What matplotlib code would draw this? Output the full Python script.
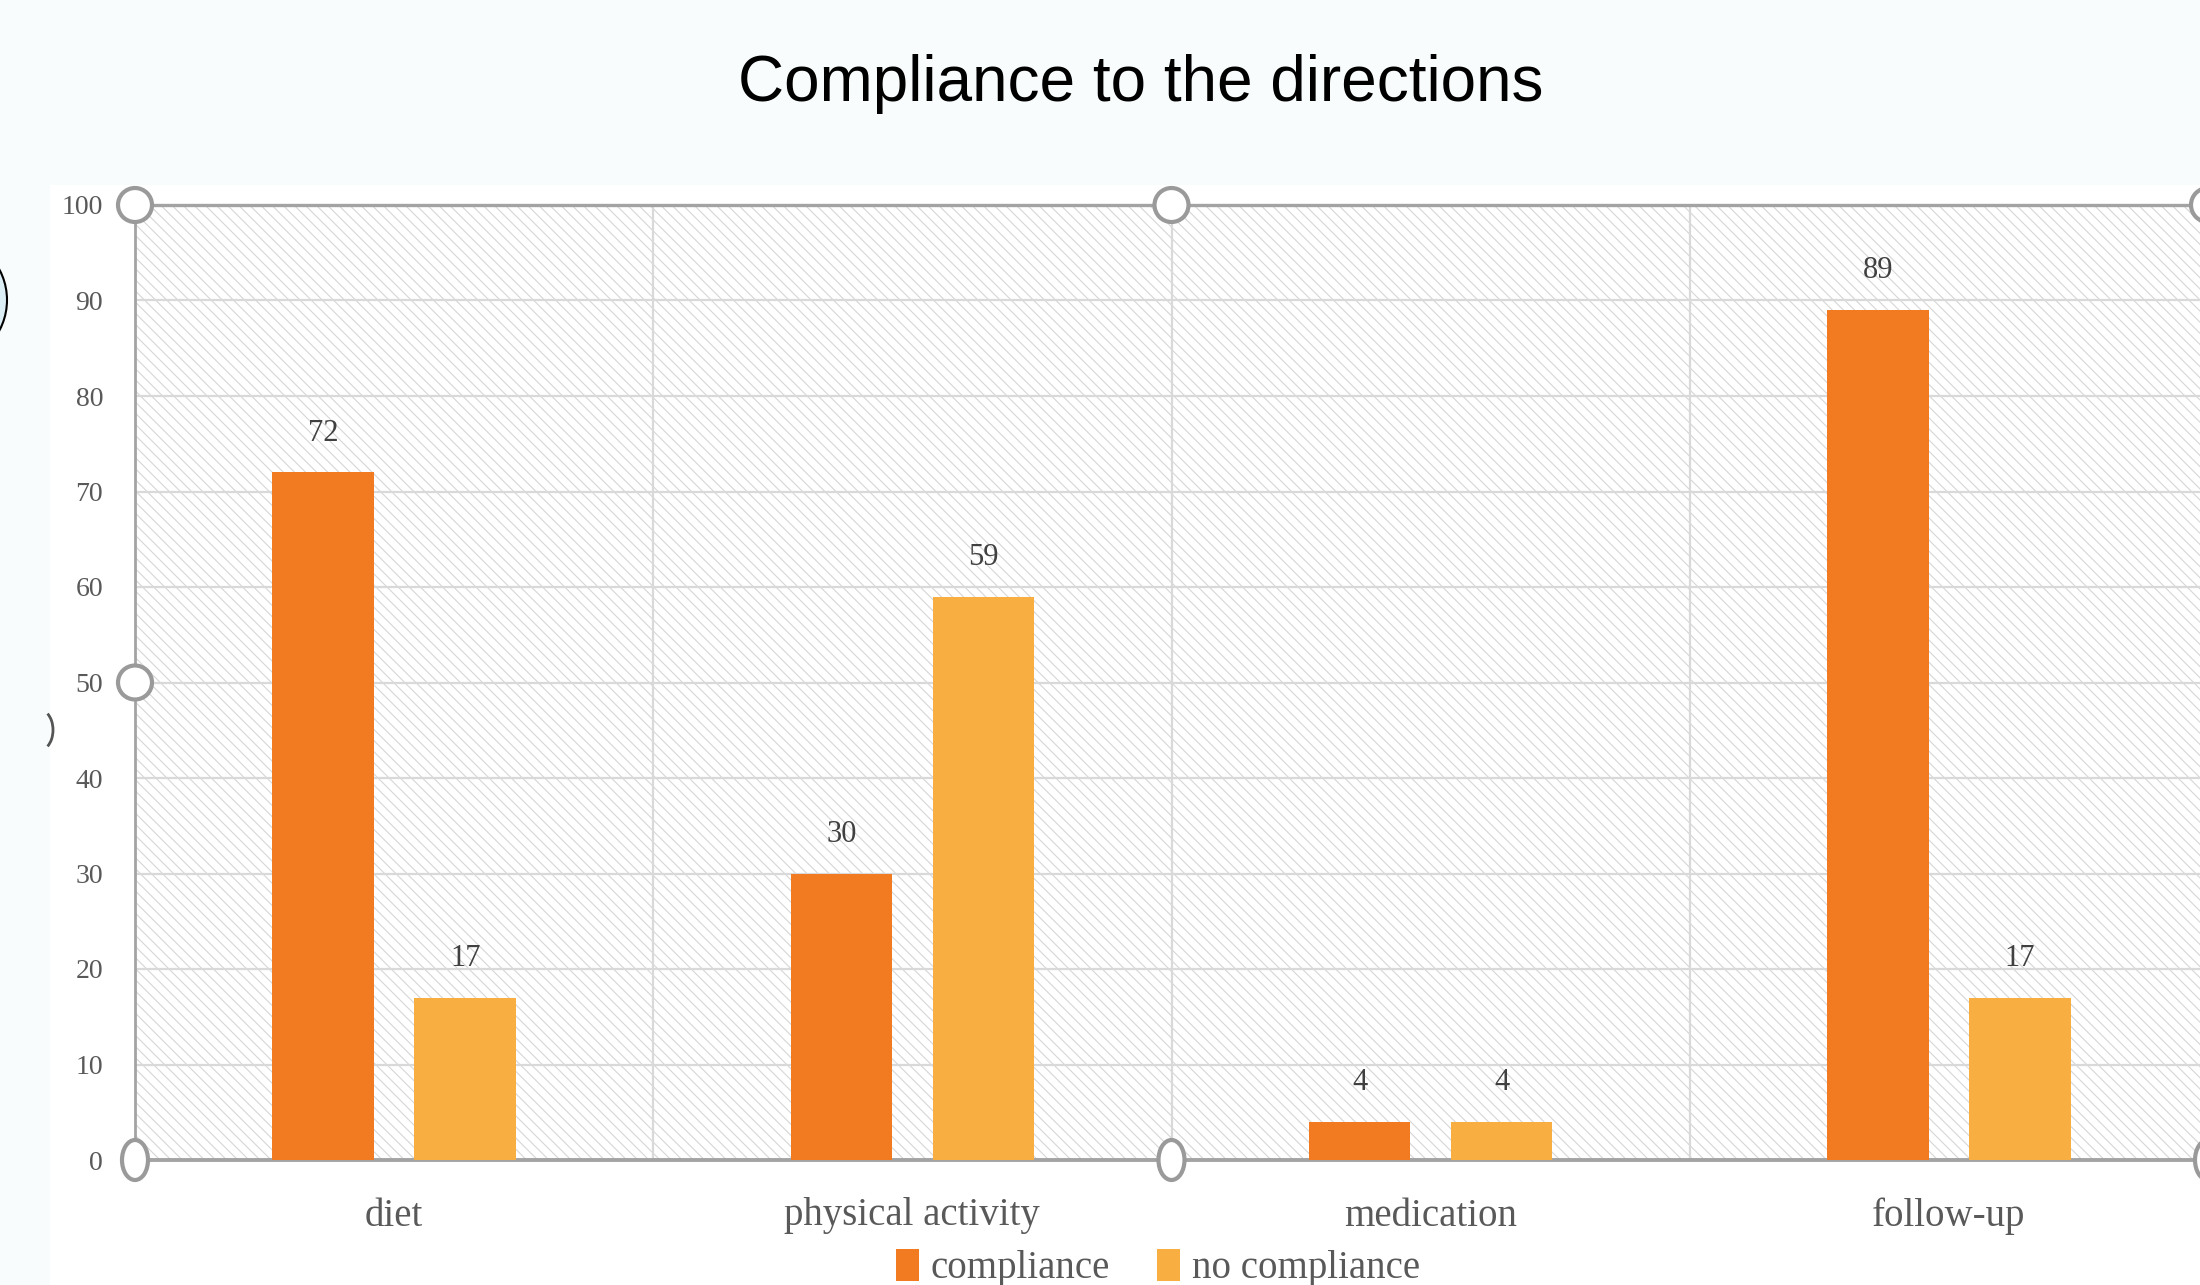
import numpy as np
import matplotlib.pyplot as plt
from matplotlib.patches import Rectangle, Ellipse, Arc

categories = ['diet', 'physical activity', 'medication', 'follow-up']
compliance = [72, 30, 4, 89]
no_compliance = [17, 59, 4, 17]
series_names = ['compliance', 'no compliance']
yticks = [0, 10, 20, 30, 40, 50, 60, 70, 80, 90, 100]

W, H = 2200, 1285
fig = plt.figure(figsize=(W / 100, H / 100), dpi=100, facecolor='#F9FCFD')

# white chart-area background
fig.patches.append(Rectangle((50 / W, 0), 1, 1 - 185 / H, transform=fig.transFigure,
                             facecolor='white', edgecolor='none', zorder=-5))

left, right, top, bottom = 135, 2208, 205, 1160
ax = fig.add_axes([left / W, (H - bottom) / H, (right - left) / W, (bottom - top) / H])
ax.set_facecolor('white')

plt.rcParams['hatch.linewidth'] = 0.8
ax.add_patch(Rectangle((0, 0), 1, 1, transform=ax.transAxes, facecolor='white',
                       edgecolor='#D6D6D6', hatch='\\\\\\', lw=0, zorder=0.1))

x = np.arange(len(categories))
off = 0.137
bw = 0.196
c1, c2 = '#F27B21', '#F9AE41'
b1 = ax.bar(x - off, compliance, bw, color=c1, zorder=3, label=series_names[0])
b2 = ax.bar(x + off, no_compliance, bw, color=c2, zorder=3, label=series_names[1])

for bars, vals in ((b1, compliance), (b2, no_compliance)):
    for b, v in zip(bars, vals):
        ax.text(b.get_x() + b.get_width() / 2, v + 2.6, str(v), ha='center', va='bottom',
                fontsize=22, color='#404040', family='Liberation Serif', zorder=4)

for t in yticks[1:-1]:
    ax.axhline(t, color='#D9D9D9', lw=1.6, zorder=1)
for xb in x[:-1] + 0.5:
    ax.axvline(xb, color='#D9D9D9', lw=1.6, zorder=1)

ax.set_xlim(-0.5, len(categories) - 0.5)
ax.set_ylim(0, 100)
ax.set_yticks(yticks)
ax.set_yticklabels([str(t) for t in yticks], family='Liberation Serif', fontsize=20, color='#595959')
ax.set_xticks(x)
ax.set_xticklabels(categories, family='Liberation Serif', fontsize=28, color='#595959')
ax.tick_params(axis='y', length=0, pad=23)
ax.tick_params(axis='x', length=0, pad=27)

for s in ['top', 'left', 'bottom']:
    ax.spines[s].set_color('#A3A3A3')
ax.spines['top'].set_linewidth(2.4)
ax.spines['left'].set_linewidth(2.0)
ax.spines['bottom'].set_linewidth(2.8)
ax.spines['right'].set_visible(False)

# selection handles
aw, ah = right - left, bottom - top
for hx, hy in [(0, 1), (0.5, 1), (1, 1), (0, 0.5)]:
    ax.add_patch(Ellipse((hx, hy), 34 / aw, 34 / ah, transform=ax.transAxes, facecolor='white',
                         edgecolor='#9A9A9A', lw=3, zorder=5, clip_on=False))
for hx, hy in [(0, 0), (0.5, 0), (1, 0)]:
    ax.add_patch(Ellipse((hx, hy), 26 / aw, 40 / ah, transform=ax.transAxes, facecolor='white',
                         edgecolor='#9A9A9A', lw=3, zorder=5, clip_on=False))

# partial shapes on the left edge
fig.patches.append(Ellipse((-55 / W, 1 - 300 / H), 124 / W, 127 / H, transform=fig.transFigure,
                           facecolor='#DCEEF6', edgecolor='black', lw=1.5, zorder=1))
fig.patches.append(Arc((40 / W, 1 - 730 / H), 26 / W, 40 / H, theta1=-75, theta2=75,
                       transform=fig.transFigure, color='#555555', lw=2, zorder=1))

fig.text(1141 / W, 1 - 84 / H, 'Compliance to the directions', ha='center', va='center',
         fontsize=46, family='Liberation Sans', color='black')

fig.legend(handles=[b1, b2], labels=series_names, loc='center', bbox_to_anchor=(1158 / W, 1 - 1268 / H),
           ncol=2, frameon=False, handlelength=0.6, handleheight=0.9, handletextpad=0.3,
           columnspacing=1.2, prop={'family': 'Liberation Serif', 'size': 28}, labelcolor='#595959')

fig.savefig('out.png', dpi=100, facecolor=fig.get_facecolor())
